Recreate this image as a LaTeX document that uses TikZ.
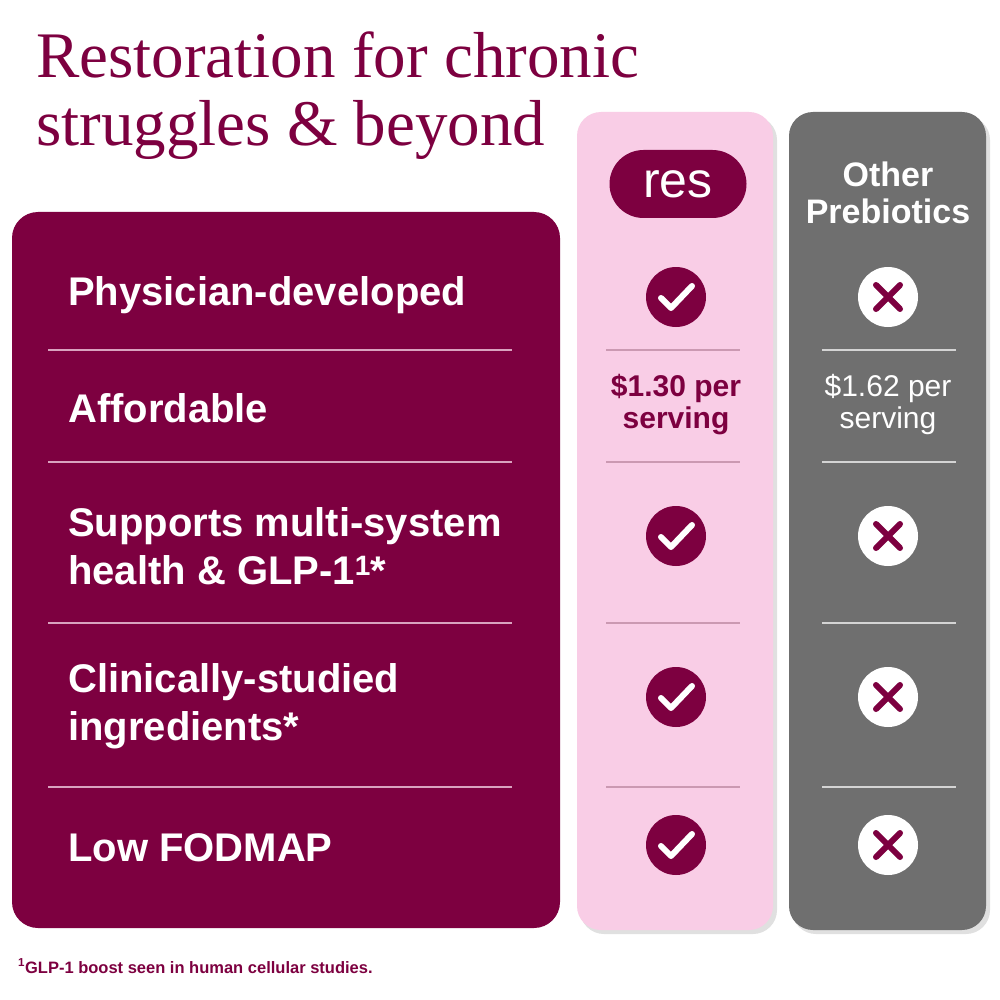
\documentclass[tikz,border=0pt]{standalone}
\usepackage{fontspec}
\setmainfont{Liberation Serif}
\setsansfont{Liberation Sans}
\definecolor{maroon}{HTML}{7D0040}
\definecolor{pinkc}{HTML}{F9CDE6}
\definecolor{grayc}{HTML}{6F6F6F}
\definecolor{sep}{HTML}{D9A3BF}
\tikzset{
 lbl/.style={anchor=west,text=white,font=\sffamily\bfseries\fontsize{40}{48}\selectfont,align=left,inner sep=0},
 chk/.style={circle,fill=maroon,minimum size=60pt,inner sep=0},
 crs/.style={circle,fill=white,minimum size=60pt,inner sep=0},
 sepl/.style={line width=1.2pt},
}
\begin{document}
\begin{tikzpicture}[x=1pt,y=-1pt]
\useasboundingbox (0,0) rectangle (1000,1000);
\fill[white] (0,0) rectangle (1000,1000);
\node[anchor=west,text=maroon,font=\fontsize{65}{68}\selectfont,align=left,inner sep=0] (title) at (36,96) {Restoration for chronic\\struggles \& beyond};
\fill[black!12,rounded corners=24pt] (580,116) rectangle (777,934);
\fill[black!12,rounded corners=24pt] (792,116) rectangle (990,934);
\fill[maroon,rounded corners=26pt] (12,212) rectangle (560,928);
\fill[pinkc,rounded corners=24pt] (577,112) rectangle (773,930);
\fill[grayc,rounded corners=24pt] (789,112) rectangle (986,930);
\node[fill=maroon,rounded corners=34pt,minimum width=137pt,minimum height=68pt,text=white,font=\sffamily\fontsize{50}{50}\selectfont] (res) at (678,184) {res};
\node[text=white,font=\sffamily\bfseries\fontsize{34}{37}\selectfont,align=center] (oth) at (888,193) {Other\\Prebiotics};
\foreach \y in {350,462,623,787}{
 \draw[sep,sepl] (48,\y) -- (512,\y);
 \draw[maroon!40,sepl] (606,\y) -- (740,\y);
 \draw[white!70!grayc,sepl] (822,\y) -- (956,\y);
}
\node[lbl] (l1) at (68,295) {Physician-developed};
\node[lbl] (l2) at (68,408) {Affordable};
\node[lbl] (l3) at (68,546) {Supports multi-system\\health \& GLP-1\textsuperscript{1}*};
\node[lbl] (l4) at (68,706) {Clinically-studied\\ingredients*};
\node[lbl] (l5) at (68,848) {Low FODMAP};
\foreach \y [count=\i] in {297,536,697,845}{
 \node[chk] (c\i) at (676,\y) {};
 \draw[white,line width=6pt,line cap=round,line join=round] ([shift={(-15,1)}]c\i.center) -- ([shift={(-5,11)}]c\i.center) -- ([shift={(16,-11)}]c\i.center);
 \node[crs] (x\i) at (888,\y) {};
 \draw[maroon,line width=6pt,line cap=round] ([shift={(-12,-12)}]x\i.center) -- ([shift={(12,12)}]x\i.center) ([shift={(-12,12)}]x\i.center) -- ([shift={(12,-12)}]x\i.center);
}
\node[text=maroon,font=\sffamily\bfseries\fontsize{30}{32}\selectfont,align=center] (p1) at (676,405) {\$1.30 per\\serving};
\node[text=white,font=\sffamily\fontsize{30}{32}\selectfont,align=center] (p2) at (888,405) {\$1.62 per\\serving};
\node[anchor=west,text=maroon,font=\sffamily\bfseries\fontsize{16.5}{18}\selectfont,inner sep=0] (fn) at (18,966) {\textsuperscript{1}GLP-1 boost seen in human cellular studies.};
\end{tikzpicture}
\end{document}
